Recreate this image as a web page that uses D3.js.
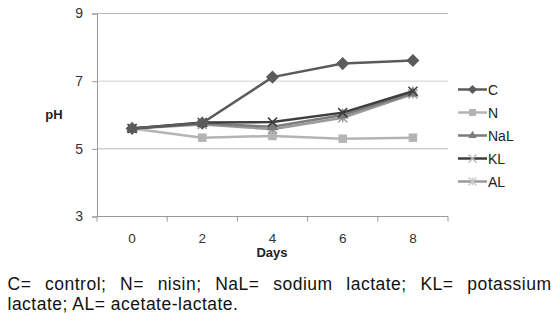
<!DOCTYPE html>
<html><head><meta charset="utf-8">
<script src="https://cdn.jsdelivr.net/npm/d3@7"></script>
<style>
html,body{margin:0;padding:0;background:#fff;}
svg{display:block;}
svg text{font-family:"Liberation Sans",Arial,sans-serif;}
</style></head>
<body>
<svg id="chart" width="560" height="324"></svg>
<script>
const days = ["0","2","4","6","8"];
const yTicks = [3,5,7,9];
const seriesNames = ["C","N","NaL","KL","AL"];
const valC   = [5.60,5.76,7.12,7.52,7.61];
const valN   = [5.60,5.33,5.38,5.30,5.33];
const valNaL = [5.60,5.75,5.65,6.00,6.65];
const valKL  = [5.60,5.78,5.79,6.07,6.70];
const valAL  = [5.60,5.72,5.58,5.92,6.62];
const captionLine1 = ["C=","control;","N=","nisin;","NaL=","sodium","lactate;","KL=","potassium"];
const captionLine2 = "lactate; AL= acetate-lactate.";

const series = [
  {name:"C",   values:valC,   color:"#5b5b5b", marker:"diamond"},
  {name:"N",   values:valN,   color:"#b4b4b4", marker:"square"},
  {name:"NaL", values:valNaL, color:"#7c7c7c", marker:"triangle"},
  {name:"KL",  values:valKL,  color:"#3e3e3e", marker:"cross"},
  {name:"AL",  values:valAL,  color:"#9a9a9a", marker:"asterisk"}
];

const FONT = "Liberation Sans, Arial, sans-serif";
const svg = d3.select("#chart");
const L=97, R=448, T=13.5, B=216.5;
const x = d3.scaleBand().domain(days).range([L,R]);
const y = d3.scaleLinear().domain([3,9]).range([B,T]);

// gridlines
svg.append("g").selectAll("line").data(yTicks.filter(d=>d>3)).join("line")
  .attr("x1",L).attr("x2",R).attr("y1",d=>y(d)).attr("y2",d=>y(d))
  .attr("stroke",d=>d===7?"#d0d0d0":"#b8b8b8").attr("stroke-width",1);

// y axis
const yAxis = svg.append("g").attr("transform",`translate(${L},0)`)
  .call(d3.axisLeft(y).tickValues(yTicks).tickFormat(d3.format("d")).tickSize(5).tickPadding(9));
yAxis.attr("font-family",FONT);
yAxis.select(".domain").attr("stroke","#999");
yAxis.selectAll(".tick line").attr("stroke","#999");
yAxis.selectAll(".tick text").attr("font-size","14px").attr("fill","#333");

// x axis
const xAxis = svg.append("g").attr("transform",`translate(0,${B})`)
  .call(d3.axisBottom(x).tickSize(0).tickPadding(17));
xAxis.attr("font-family",FONT);
xAxis.select(".domain").attr("stroke","#999").attr("d",`M${L},0H${R}`);
xAxis.selectAll(".tick text").attr("font-size","13.5px").attr("fill","#333");
// boundary ticks
const bounds = days.map(d=>x(d)).concat([x(days[days.length-1])+x.bandwidth()]);
svg.append("g").selectAll("line").data(bounds).join("line")
  .attr("x1",d=>d).attr("x2",d=>d).attr("y1",B).attr("y2",B+5).attr("stroke","#999");

// titles
svg.append("text").attr("x",54).attr("y",119).attr("text-anchor","middle")
  .attr("font-size","13px").attr("font-weight","bold").attr("fill","#222").text("pH");
svg.append("text").attr("x",272).attr("y",257).attr("text-anchor","middle")
  .attr("font-size","13px").attr("font-weight","bold").attr("fill","#222").text("Days");

function drawMarker(g, type, color, cx, cy, s){
  if(type==="diamond"){
    g.append("path").attr("d",d3.symbol(d3.symbolDiamond2, 2*s*s*0.55)()).attr("transform",`translate(${cx},${cy})`).attr("fill",color);
  } else if(type==="square"){
    g.append("rect").attr("x",cx-s/2).attr("y",cy-s/2).attr("width",s).attr("height",s).attr("fill",color);
  } else if(type==="triangle"){
    g.append("path").attr("d",d3.symbol(d3.symbolTriangle, s*s*0.6)()).attr("transform",`translate(${cx},${cy})`).attr("fill",color);
  } else if(type==="cross"){
    const h=s/2;
    g.append("path").attr("d",`M${cx-h},${cy-h}L${cx+h},${cy+h}M${cx-h},${cy+h}L${cx+h},${cy-h}`).attr("stroke",color).attr("stroke-width",1.5).attr("fill","none");
  } else if(type==="asterisk"){
    const h=s/2;
    g.append("path").attr("d",`M${cx-h},${cy-h}L${cx+h},${cy+h}M${cx-h},${cy+h}L${cx+h},${cy-h}M${cx},${cy-h}L${cx},${cy+h}`).attr("stroke",color).attr("stroke-width",1.5).attr("fill","none");
  }
}

const line = d3.line().x((d,i)=>x(days[i])+x.bandwidth()/2).y(d=>y(d));
const drawOrder = ["N","AL","NaL","KL","C"];
drawOrder.forEach(n=>{
  const s = series.find(d=>d.name===n);
  const g = svg.append("g");
  g.append("path").attr("d",line(s.values)).attr("fill","none").attr("stroke",s.color).attr("stroke-width",2.5);
  s.values.forEach((v,i)=>{
    const sz = {diamond:10,square:8.5,triangle:10,cross:9,asterisk:9}[s.marker];
    drawMarker(g,s.marker,s.color,x(days[i])+x.bandwidth()/2,y(v),sz);
  });
});

// legend
const lg = svg.append("g");
series.forEach((s,i)=>{
  const cy = 89.5 + i*23;
  lg.append("line").attr("x1",458).attr("x2",487).attr("y1",cy).attr("y2",cy).attr("stroke",s.color).attr("stroke-width",2.5);
  const sz = {diamond:7,square:7,triangle:7,cross:8,asterisk:8}[s.marker];
  drawMarker(lg,s.marker,s.marker==="cross"?"#bbb":(s.marker==="asterisk"?"#ccc":s.color),472.5,cy,sz);
  lg.append("text").attr("x",488).attr("y",cy+5).attr("font-size","14px").attr("fill","#222").text(s.name);
});

// caption line 1 justified
const cap = svg.append("g").attr("font-size","17.5px").attr("fill","#111");
const words = captionLine1.map(w=>cap.append("text").attr("y",290).attr("letter-spacing","0.5px").text(w));
const widths = words.map(t=>t.node().getComputedTextLength());
const x0=7.5, x1=551.5;
const gap = (x1-x0-d3.sum(widths))/(words.length-1);
let cx=x0;
words.forEach((t,i)=>{ t.attr("x",cx); cx+=widths[i]+gap; });
cap.append("text").attr("x",7.5).attr("y",310).attr("letter-spacing","0.5px").text(captionLine2);
</script>
</body></html>
